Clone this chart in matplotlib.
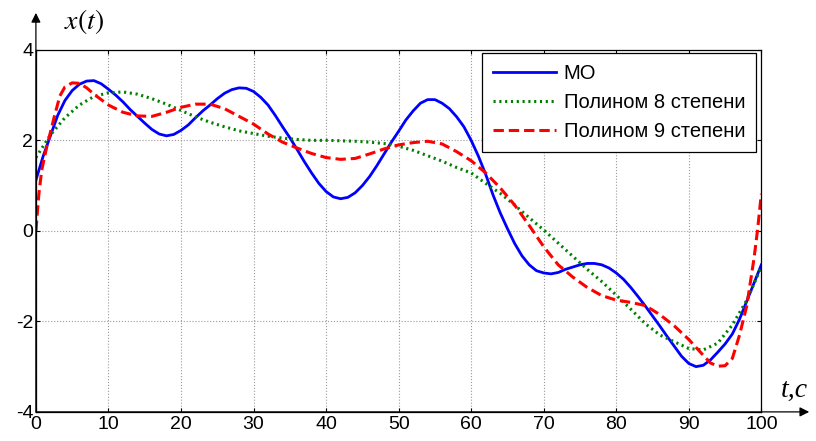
import matplotlib
matplotlib.use("Agg")
import matplotlib.pyplot as plt

# MO (mean) at 1 s steps
t_mo = list(range(0, 101))
x_mo = [1.12, 1.65, 2.1, 2.55, 2.88, 3.1, 3.24, 3.31, 3.32, 3.25,
        3.13, 3.0, 2.85, 2.68, 2.53, 2.38, 2.24, 2.14, 2.1, 2.13,
        2.22, 2.34, 2.5, 2.65, 2.78, 2.92, 3.04, 3.12, 3.16, 3.15,
        3.08, 2.95, 2.78, 2.55, 2.3, 2.06, 1.8, 1.53, 1.28, 1.05,
        0.87, 0.75, 0.71, 0.74, 0.84, 1.0, 1.2, 1.44, 1.7, 1.96,
        2.2, 2.45, 2.65, 2.82, 2.9, 2.9, 2.82, 2.7, 2.52, 2.3,
        2.0, 1.65, 1.25, 0.8, 0.4, 0.05, -0.28, -0.55, -0.75, -0.88,
        -0.93, -0.95, -0.92, -0.85, -0.8, -0.75, -0.72, -0.72, -0.75, -0.82,
        -0.93, -1.07, -1.25, -1.45, -1.66, -1.88, -2.1, -2.33, -2.55, -2.77,
        -2.93, -3.0, -2.97, -2.85, -2.68, -2.5, -2.28, -1.95, -1.55, -1.15,
        -0.75]

# polynomial of degree 8
t_p8 = list(range(0, 101, 2))
x_p8 = [1.62, 2.12, 2.5, 2.78, 2.97, 3.05, 3.07, 3.02, 2.92, 2.8,
        2.66, 2.52, 2.4, 2.3, 2.21, 2.15, 2.09, 2.05, 2.02, 2.0,
        2.0, 1.99, 1.98, 1.96, 1.93, 1.87, 1.78, 1.66, 1.54, 1.4,
        1.28, 1.05, 0.83, 0.57, 0.29, 0.02, -0.27, -0.56, -0.85, -1.12,
        -1.42, -1.73, -2.05, -2.3, -2.45, -2.6, -2.63, -2.48, -2.08, -1.53,
        -0.8]

# polynomial of degree 9
t_p9 = [0, 0.4, 0.8, 1.5, 2.5, 3.3, 4, 5, 6, 7, 8, 9, 10, 12, 14, 16, 18,
        20, 22, 24, 26, 28, 30, 32, 34, 36, 38, 40, 42, 44, 46, 48, 50,
        52, 54, 56, 58, 60, 62, 64, 66, 68, 70, 72, 74, 76, 78, 80, 82,
        84, 86, 88, 90, 92, 93, 94, 95, 96, 97, 98, 99, 99.5, 100]
x_p9 = [0.0, 0.8, 1.34, 1.86, 2.5, 2.98, 3.18, 3.27, 3.26, 3.16, 3.02, 2.9,
        2.78, 2.62, 2.54, 2.53, 2.62, 2.73, 2.8, 2.8, 2.7, 2.53, 2.36, 2.14,
        1.96, 1.83, 1.71, 1.62, 1.58, 1.6, 1.7, 1.81, 1.9, 1.95, 1.98, 1.92,
        1.75, 1.55, 1.28, 0.95, 0.57, 0.12, -0.35, -0.75, -1.02, -1.25, -1.43,
        -1.53, -1.58, -1.65, -1.85, -2.1, -2.4, -2.75, -2.92, -2.99, -2.98,
        -2.82, -2.3, -1.65, -0.6, 0.05, 0.82]

labels = ["МО", "Полином 8 степени", "Полином 9 степени"]

plt.rcParams["font.family"] = ["Liberation Sans", "DejaVu Sans"]
plt.rcParams["mathtext.fontset"] = "stix"
plt.rcParams["axes.unicode_minus"] = False

fig = plt.figure(figsize=(8.16, 4.41), dpi=100)
ax = fig.add_axes([0.044, 0.066, 0.889, 0.821])

ax.plot(t_mo, x_mo, color="#0000ff", lw=2.0, label=labels[0],
        solid_joinstyle="round")
ax.plot(t_p8, x_p8, color="#008000", lw=2.2, ls=(0, (0.7, 1.2)),
        label=labels[1])
ax.plot(t_p9, x_p9, color="#ff0000", lw=2.2, ls=(0, (3.4, 1.6)),
        label=labels[2])

ax.set_xlim(0, 100)
ax.set_ylim(-4, 4)
ax.set_xticks(range(0, 101, 10))
ax.set_yticks([-4, -2, 0, 2, 4])
ax.grid(True, color="#999999", ls=":", lw=0.8)
ax.tick_params(direction="in", length=3, width=0.8, top=True, right=True,
               labelsize=14)
ax.tick_params(axis="x", pad=3)
ax.tick_params(axis="y", pad=2)
for s in ax.spines.values():
    s.set_linewidth(0.9)

# axis arrows
ax.annotate("", xy=(0, 1.102), xytext=(0, 0), xycoords="axes fraction",
            arrowprops=dict(arrowstyle="-|>", color="black", lw=0.9,
                            mutation_scale=14, shrinkA=0, shrinkB=0),
            annotation_clip=False)
ax.annotate("", xy=(1.066, 0), xytext=(0, 0), xycoords="axes fraction",
            arrowprops=dict(arrowstyle="-|>", color="black", lw=0.9,
                            mutation_scale=14, shrinkA=0, shrinkB=0),
            annotation_clip=False)

ax.text(0.066, 1.077, r"$x\left(t\right)$", transform=ax.transAxes,
        fontsize=20, ha="center", va="center")
ax.text(1.046, 0.06, "t,с", transform=ax.transAxes, fontsize=20,
        family="Liberation Serif", style="italic", ha="center", va="center")

leg = ax.legend(loc="upper right", bbox_to_anchor=(0.993, 0.992),
                borderaxespad=0, fontsize=14.5, handlelength=3.1,
                handletextpad=0.4, labelspacing=0.5, fancybox=False,
                framealpha=1, edgecolor="black", borderpad=0.55)
leg.get_frame().set_linewidth(0.9)

fig.savefig("out.png", dpi=100)
